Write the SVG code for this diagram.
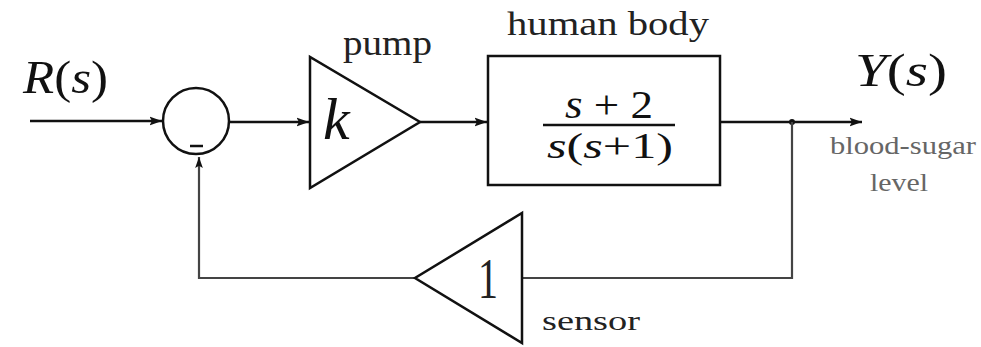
<svg xmlns="http://www.w3.org/2000/svg" width="981" height="347" viewBox="0 0 981 347">
<defs>
<style>
.ln{fill:none;stroke:#111;stroke-width:2.5}
.fb{fill:none;stroke:#444;stroke-width:2.2}
.sh{fill:#fff;stroke:#111;stroke-width:2.5}
.math{font-style:italic;fill:#111}
.rm{fill:#222}
.lbl{fill:#222}
.gray{fill:#666}
</style>
<marker id="ah" viewBox="0 0 10 10" refX="10" refY="5" markerWidth="5" markerHeight="5" markerUnits="strokeWidth" orient="auto">
<path d="M0,1.5 L10,5 L0,8.5 L2,5 Z" fill="#111"/>
</marker>
</defs>
<rect width="981" height="347" fill="#fff"/>
<g id="connectors">
<path class="ln" d="M30,121 H162" marker-end="url(#ah)"/>
<path class="ln" d="M230,122 H309" marker-end="url(#ah)"/>
<path class="ln" d="M420,122 H487" marker-end="url(#ah)"/>
<path class="ln" d="M720,122 H862" marker-end="url(#ah)"/>
<circle cx="792" cy="122" r="3" fill="#111"/>
<path class="fb" d="M792,122 V278 H522"/>
<path class="fb" d="M415,278 H199 V157" marker-end="url(#ah)"/>
</g>
<g id="texts" font-family="Liberation Serif, DejaVu Serif, serif">
<g id="input">
<text class="math" x="23" y="93" font-family="Liberation Serif, serif" font-size="46" textLength="85" lengthAdjust="spacingAndGlyphs">R<tspan font-style="normal">(</tspan>s<tspan font-style="normal">)</tspan></text>
</g>
<g id="sum">
<circle class="sh" cx="196" cy="121" r="33"/>
<path d="M190,146 H203" stroke="#111" stroke-width="2.5"/>
</g>
<g id="pump">
<polygon class="sh" points="310,57 310,188 420,122"/>
<text class="math" x="323" y="139" font-family="Liberation Serif, serif" font-size="60">k</text>
<text class="lbl" x="343" y="55" font-family="Liberation Serif, serif" font-size="36" textLength="89" lengthAdjust="spacingAndGlyphs">pump</text>
</g>
<g id="body">
<rect class="sh" x="488" y="56" width="232" height="129"/>
<text class="lbl" x="507" y="35" font-family="Liberation Serif, serif" font-size="34" textLength="202" lengthAdjust="spacingAndGlyphs">human body</text>
<text class="math" x="565" y="118" font-family="Liberation Serif, serif" font-size="40" textLength="88" lengthAdjust="spacingAndGlyphs">s <tspan font-style="normal">+ 2</tspan></text>
<path d="M543,125 H675" stroke="#111" stroke-width="2.5"/>
<text class="math" x="547" y="158" font-family="Liberation Serif, serif" font-size="36" textLength="126" lengthAdjust="spacingAndGlyphs">s<tspan font-style="normal">(</tspan>s<tspan font-style="normal">+1)</tspan></text>
</g>
<g id="output">
<text class="math" x="855" y="86" font-family="Liberation Serif, serif" font-size="46" textLength="92" lengthAdjust="spacingAndGlyphs">Y<tspan font-style="normal">(</tspan>s<tspan font-style="normal">)</tspan></text>
<text class="gray" x="830" y="154" font-family="Liberation Serif, serif" font-size="26" textLength="146" lengthAdjust="spacingAndGlyphs">blood-sugar</text>
<text class="gray" x="870" y="191" font-family="Liberation Serif, serif" font-size="26" textLength="58" lengthAdjust="spacingAndGlyphs">level</text>
</g>
<g id="sensor">
<polygon class="sh" points="522,213 522,343 415,278"/>
<text class="rm" x="478" y="298" font-family="Liberation Serif, serif" font-size="56" textLength="20" lengthAdjust="spacingAndGlyphs">1</text>
<text class="lbl" x="542" y="330" font-family="Liberation Serif, serif" font-size="28" textLength="98" lengthAdjust="spacingAndGlyphs">sensor</text>
</g>
</g>
</svg>
